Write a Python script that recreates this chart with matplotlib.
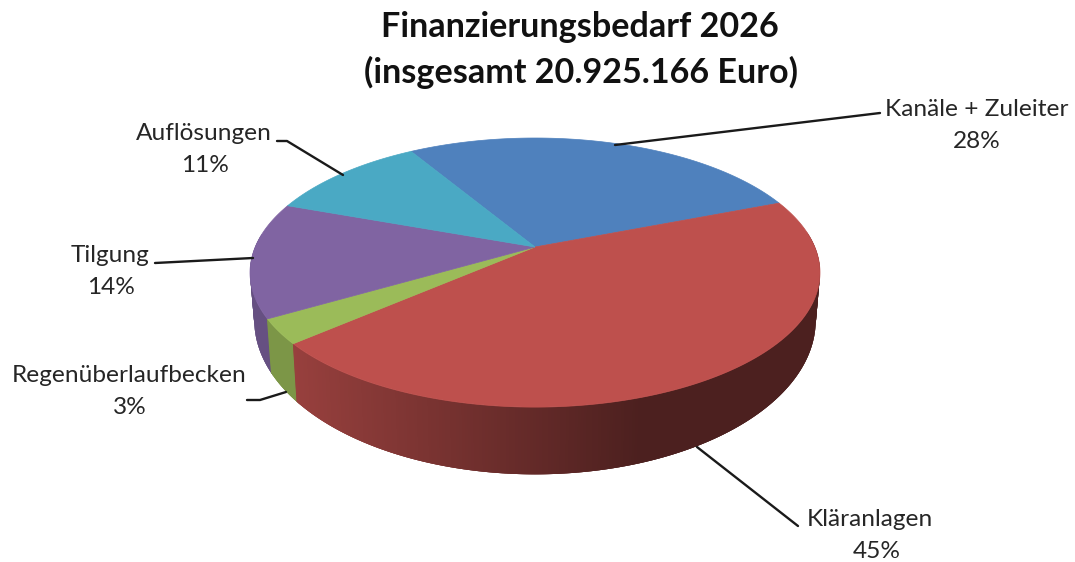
#!/usr/bin/env python3
"""Perspective 3D pie: Finanzierungsbedarf 2026."""

import matplotlib
matplotlib.use("Agg")
import matplotlib.pyplot as plt  # noqa: E402
import numpy as np  # noqa: E402
from matplotlib.patches import Polygon  # noqa: E402

categories = ["Kanäle + Zuleiter", "Kläranlagen", "Regenüberlaufbecken", "Tilgung", "Auflösungen"]
percent = [28, 45, 3, 14, 11]
title_lines = ["Finanzierungsbedarf 2026", "(insgesamt 20.925.166 Euro)"]

colors = ["#4F81BD", "#BE504D", "#9BBB59", "#8064A2", "#4AA9C4"]
TEXT = "#262626"

# layout in image pixels
W, H = 1075, 562
VX, VY = 535, 247          # pie centre as seen in perspective
R, A, K = 279.8, 129.7, 0.19
WALL_RX, WALL_RY, WALL_D = 0.985, 1.145, 44
START = 121.0

label_pos = [(977, 109), (870, 519), (129, 376), (110, 256), (204, 134)]
pct_pos = [(977, 141), (877, 551), (130, 408), (111, 288), (205, 166)]
leaders = [
    [(615, 145), (880, 113)],
    [(697, 447), (798, 526)],
    [(286, 392), (260, 400), (247, 400)],
    [(253, 258), (155, 263)],
    [(343, 175), (287, 141), (277, 141)],
]


def project(theta):
    """Map pie angle (radians) onto the tilted top rim."""
    u, v = np.cos(theta), np.sin(theta)
    w = 1 + K * v
    return R * u / w, A * v / w


def top_xy(theta):
    x, y = project(theta)
    return VX + x, VY - y


def bottom_xy(theta):
    x, y = project(theta)
    return VX + x * WALL_RX, VY + WALL_D - y * WALL_RY


def shaded(color, x):
    f = np.interp(x, [290, 640], [0.8, 0.4])
    rgb = np.array(matplotlib.colors.to_rgb(color))
    return tuple(rgb * f)


def main() -> None:
    plt.rcParams["font.family"] = ["Lato", "DejaVu Sans"]
    dpi = 100
    fig = plt.figure(figsize=(W / dpi, H / dpi), dpi=dpi, facecolor="white")
    ax = fig.add_axes([0, 0, 1, 1])
    ax.set_xlim(0, W)
    ax.set_ylim(H, 0)
    ax.axis("off")

    sweep = np.array(percent, dtype=float) / sum(percent) * 360
    edges = START - np.concatenate([[0], np.cumsum(sweep)])

    # side walls: strips drawn left to right, each one overlapping the last
    # so that no seams show
    wall = []
    for i, col in enumerate(colors):
        angles = np.radians(np.arange(edges[i], edges[i + 1] - 0.5, -0.5))
        angles = np.append(angles, np.radians(edges[i + 1]))
        for a0, a1 in zip(angles[:-1], angles[1:]):
            if np.sin(a0) < 0.1:
                wall.append((a0, a1, col))
    wall.sort(key=lambda s: top_xy(s[1])[0])
    overlap = np.radians(1.0)
    for a0, a1, col in wall:
        x0, y0 = top_xy(a0 + overlap)
        x1, y1 = top_xy(a1)
        x2, y2 = bottom_xy(a1)
        x3, y3 = bottom_xy(a0 + overlap)
        c = shaded(col, x1)
        ax.add_patch(Polygon([(x0, y0), (x1, y1), (x2, y2), (x3, y3)],
                             closed=True, facecolor=c, edgecolor="none", zorder=2))

    # top faces
    for i, col in enumerate(colors):
        t = np.radians(np.linspace(edges[i], edges[i + 1], 200))
        xs, ys = top_xy(t)
        pts = [(VX, VY)] + list(zip(xs, ys))
        ax.add_patch(Polygon(pts, closed=True, facecolor=col, edgecolor=col, linewidth=0.5, zorder=3))

    for pts in leaders:
        xs, ys = zip(*pts)
        ax.plot(xs, ys, color="#1a1a1a", linewidth=1.7, zorder=4, solid_capstyle="round")

    for name, pct, lp, pp in zip(categories, percent, label_pos, pct_pos):
        ax.text(lp[0], lp[1], name, ha="center", va="center", fontsize=17.6, color=TEXT, zorder=5)
        ax.text(pp[0], pp[1], f"{pct}%", ha="center", va="center", fontsize=17.6, color=TEXT, zorder=5)

    ax.text(580, 27, title_lines[0], ha="center", va="center", fontsize=24.6, fontweight="bold", color="#111111")
    ax.text(581, 72, title_lines[1], ha="center", va="center", fontsize=24.6, fontweight="bold", color="#111111")

    fig.savefig("out.png", dpi=dpi)
    plt.close(fig)


if __name__ == "__main__":
    main()
